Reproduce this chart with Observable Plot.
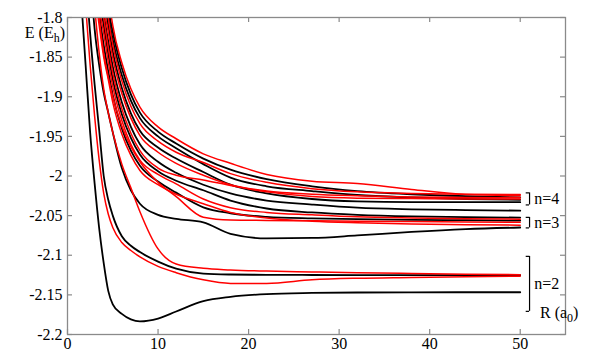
<!DOCTYPE html>
<html><head><meta charset="utf-8">
<script src="https://cdn.jsdelivr.net/npm/d3@7"></script>
<script src="https://cdn.jsdelivr.net/npm/@observablehq/plot@0.6"></script>
<style>body{margin:0;background:#fff}</style>
</head><body><div id="chart"></div>
<script>
// internuclear distance grid R (a0)
const R = [1.5, 2, 2.5, 3, 3.5, 4, 4.5, 5, 6, 7, 8, 10, 12, 15, 18, 22, 27, 32, 38, 44, 50];

// black curves, E (Eh)
const B1 = [-1.775,-1.86,-1.945,-2.01,-2.066,-2.11,-2.145,-2.162,-2.174,-2.181,-2.1835,-2.18,-2.171,-2.158,-2.1525,-2.149,-2.1476,-2.147,-2.1468,-2.1467,-2.1467];
const B2 = [-1.62,-1.74,-1.82,-1.885,-1.942,-2.0,-2.03,-2.05,-2.076,-2.088,-2.096,-2.108,-2.117,-2.1232,-2.1243,-2.1247,-2.1249,-2.125,-2.125,-2.125,-2.125];
const B3 = [-1.5,-1.62,-1.74,-1.815,-1.86,-1.895,-1.92,-1.945,-1.99,-2.018,-2.035,-2.049,-2.054,-2.0585,-2.073,-2.0787,-2.0782,-2.075,-2.0705,-2.067,-2.065];
const B4 = [-1.22,-1.34,-1.45,-1.55,-1.635,-1.71,-1.785,-1.818,-1.864,-1.897,-1.92,-1.944,-1.959,-1.978,-1.992,-2.004,-2.013,-2.019,-2.023,-2.0255,-2.027];
const B5 = [-1.25,-1.37,-1.48,-1.58,-1.66,-1.73,-1.795,-1.828,-1.873,-1.905,-1.927,-1.95,-1.965,-1.985,-2.002,-2.013,-2.019,-2.024,-2.027,-2.029,-2.030];
const B6 = [-1.3,-1.42,-1.53,-1.63,-1.71,-1.77,-1.81,-1.843,-1.889,-1.921,-1.943,-1.964,-1.978,-1.995,-2.011,-2.022,-2.029,-2.032,-2.033,-2.033,-2.033];
const B7 = [-1.34,-1.46,-1.57,-1.67,-1.745,-1.795,-1.83,-1.862,-1.907,-1.938,-1.96,-1.982,-1.996,-2.011,-2.022,-2.031,-2.036,-2.040,-2.042,-2.043,-2.0437];
const B8 = [-1.44,-1.56,-1.67,-1.75,-1.795,-1.835,-1.868,-1.898,-1.94,-1.968,-1.987,-2.007,-2.021,-2.0395,-2.047,-2.0515,-2.0535,-2.0545,-2.0553,-2.0558,-2.0563];
const B9 = [-1.38,-1.5,-1.61,-1.7,-1.77,-1.81,-1.846,-1.878,-1.922,-1.952,-1.973,-1.994,-2.006,-2.018,-2.031,-2.041,-2.046,-2.049,-2.051,-2.052,-2.0525];

// red curves, E (Eh)
const R1 = [-1.70,-1.785,-1.86,-1.925,-1.98,-2.022,-2.048,-2.065,-2.084,-2.094,-2.102,-2.114,-2.122,-2.131,-2.1355,-2.1355,-2.131,-2.129,-2.128,-2.127,-2.1265];
const R2 = [-1.45,-1.58,-1.69,-1.785,-1.845,-1.89,-1.92,-1.945,-1.985,-2.015,-2.045,-2.092,-2.111,-2.1165,-2.1185,-2.12,-2.121,-2.122,-2.123,-2.124,-2.1245];
const R3 = [-1.35,-1.48,-1.6,-1.72,-1.8,-1.845,-1.875,-1.9,-1.937,-1.963,-1.982,-2.008,-2.026,-2.052,-2.0555,-2.056,-2.0565,-2.057,-2.0575,-2.058,-2.0585];
const R4 = [-1.27,-1.39,-1.5,-1.6,-1.68,-1.75,-1.8,-1.834,-1.88,-1.912,-1.934,-1.956,-1.97,-1.983,-1.997,-2.008,-2.016,-2.020,-2.022,-2.023,-2.0235];
const R5 = [-1.32,-1.44,-1.55,-1.65,-1.72,-1.785,-1.818,-1.851,-1.896,-1.927,-1.949,-1.97,-1.984,-1.999,-2.011,-2.019,-2.023,-2.025,-2.0265,-2.027,-2.0275];
const R6 = [-1.4,-1.52,-1.63,-1.72,-1.785,-1.82,-1.856,-1.887,-1.93,-1.96,-1.98,-1.998,-2.01,-2.029,-2.04,-2.046,-2.049,-2.0515,-2.053,-2.054,-2.0545];
const R7 = [-1.46,-1.58,-1.69,-1.765,-1.81,-1.85,-1.878,-1.907,-1.947,-1.974,-1.993,-2.011,-2.023,-2.035,-2.046,-2.053,-2.057,-2.059,-2.0605,-2.0615,-2.062];
const R8 = [-1.36,-1.48,-1.59,-1.69,-1.76,-1.8,-1.838,-1.87,-1.915,-1.946,-1.968,-1.99,-1.999,-2.005,-2.012,-2.02,-2.026,-2.028,-2.0285,-2.029,-2.029];
const RT = [-1.2,-1.32,-1.43,-1.53,-1.62,-1.7,-1.77,-1.81,-1.857,-1.89,-1.913,-1.938,-1.953,-1.972,-1.984,-1.998,-2.0065,-2.0095,-2.017,-2.0235,-2.025];

// axis ticks
const xTicks = [0, 10, 20, 30, 40, 50];
const yTicks = [-1.8, -1.85, -1.9, -1.95, -2, -2.05, -2.1, -2.15, -2.2];

// manifold brackets
const bracketLabels = ["n=4", "n=3", "n=2"];
const bracketTop = [-2.0213, -2.0522, -2.1014];
const bracketBottom = [-2.0365, -2.0655, -2.1708];
const bracketX0 = 50.66, bracketX1 = 51.03, bracketTextX = 51.55;

const blackCurves = [B1, B2, B3, B4, B5, B6, B7, B8, B9];
const redCurves = [R1, R2, R3, R4, R5, R6, R7, R8, RT];
const rows = (curves) => curves.flatMap((E, k) => R.map((r, i) => ({R: r, E: E[i], k})));
const blackRows = rows(blackCurves);
const redRows = rows(redCurves);
const br = bracketLabels.map((t, i) => ({t, top: bracketTop[i], bot: bracketBottom[i], mid: (bracketTop[i] + bracketBottom[i]) / 2}));

const W = 589, H = 364, mL = 67, mR = 24, mT = 17, mB = 30;
const pw = W - mL - mR, ph = H - mT - mB, tl = 5;
const frameColor = "#8a8a8a";
const serif = "Liberation Serif";

const chart = Plot.plot({
  width: W, height: H,
  marginLeft: mL, marginRight: mR, marginTop: mT, marginBottom: mB,
  style: {fontSize: "16px", color: "#000", background: "#fff"},
  x: {domain: [0, 55], label: null},
  y: {domain: [-2.2, -1.8], label: null},
  marks: [
    Plot.line(blackRows, {x: "R", y: "E", z: "k", stroke: "#000", strokeWidth: 1.8, curve: "monotone-x", clip: true}),
    Plot.line(redRows, {x: "R", y: "E", z: "k", stroke: "#ff0000", strokeWidth: 1.5, curve: "monotone-x", clip: true}),
    Plot.frame({stroke: frameColor, strokeWidth: 1.3}),
    Plot.tickY(yTicks, {y: d => d, insetRight: pw - tl, stroke: frameColor, strokeWidth: 1.2}),
    Plot.tickY(yTicks, {y: d => d, insetLeft: pw - tl, stroke: frameColor, strokeWidth: 1.2}),
    Plot.tickX(xTicks, {x: d => d, insetTop: ph - tl, stroke: frameColor, strokeWidth: 1.2}),
    Plot.tickX(xTicks, {x: d => d, insetBottom: ph - tl, stroke: frameColor, strokeWidth: 1.2}),
    Plot.axisY({ticks: yTicks, tickSize: 0, tickPadding: 5, tickFormat: d => String(d), label: null}),
    Plot.axisX({ticks: xTicks, tickSize: 0, tickPadding: 3, tickFormat: d => String(d), label: null}),
    Plot.ruleX(br, {x: bracketX1, y1: "top", y2: "bot", stroke: "#000", strokeWidth: 1.2}),
    Plot.ruleY(br, {y: "top", x1: bracketX0, x2: bracketX1, stroke: "#000", strokeWidth: 1.2}),
    Plot.ruleY(br, {y: "bot", x1: bracketX0, x2: bracketX1, stroke: "#000", strokeWidth: 1.2}),
    Plot.text(br, {x: bracketTextX, y: "mid", text: "t", textAnchor: "start", fill: "#000", fontSize: 16})
  ]
});
document.getElementById("chart").appendChild(chart);

// axis titles with subscripts
const svg = d3.select(chart);
function title(x, y, main, sub, anchor) {
  const t = svg.append("text").attr("x", x).attr("y", y).attr("text-anchor", anchor).attr("font-size", 16).attr("fill", "#000");
  t.append("tspan").text(main);
  t.append("tspan").attr("font-size", 12).attr("dy", 4).text(sub);
  t.append("tspan").attr("dy", -4).text(")");
}
title(65, 38, "E (E", "h", "end");
title(540, 318, "R (a", "0", "start");

// serif font on every text element
svg.attr("font-family", serif).style("font-family", serif);
svg.selectAll("g").attr("font-family", serif).style("font-family", serif);
svg.selectAll("text").attr("font-family", serif).style("font-family", serif);
</script></body></html>
